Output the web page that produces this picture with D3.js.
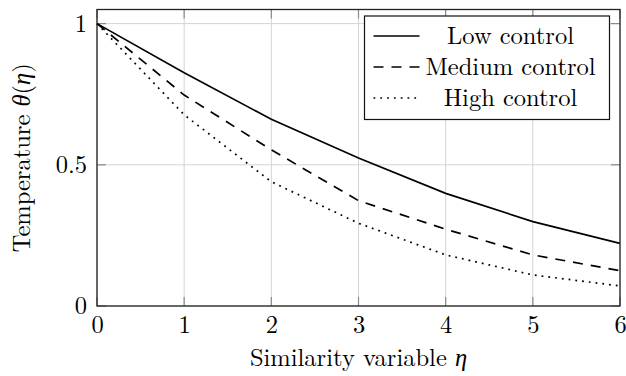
<!DOCTYPE html>
<html>
<head>
<meta charset="utf-8">
<script src="https://cdn.jsdelivr.net/npm/d3@7"></script>
<style>
  body { margin: 0; background: #fff; }
</style>
</head>
<body>
<div id="chart"></div>
<script>
// data
const eta = [0, 1, 2, 3, 4, 5, 6];
const lowControl = [1, 0.826, 0.661, 0.524, 0.399, 0.299, 0.222];
const mediumControl = [1, 0.747, 0.553, 0.373, 0.272, 0.181, 0.125];
const highControl = [1, 0.677, 0.44, 0.293, 0.181, 0.11, 0.071];
const xTicks = [0, 1, 2, 3, 4, 5, 6];
const yTicks = [0, 0.5, 1];
const seriesNames = ["Low control", "Medium control", "High control"];

const texFont = "'Latin Modern Roman', 'Liberation Serif', serif";
const greekFont = "'Liberation Serif', serif";
const fs = 24.5;

const W = 626, H = 376;
const margin = {top: 9.5, right: 6, bottom: 70, left: 97};
const width = W - margin.left - margin.right;
const height = H - margin.top - margin.bottom;

const svg = d3.select("#chart").append("svg")
  .attr("width", W)
  .attr("height", H);

const g = svg.append("g")
  .attr("transform", "translate(" + margin.left + "," + margin.top + ")");

const x = d3.scaleLinear().domain([0, 6]).range([0, width]);
const y = d3.scaleLinear().domain([0, 1.05]).range([height, 0]);

function tex(sel) {
  sel.style("font-family", texFont).style("font-size", fs + "px").style("fill", "#000");
}
function greek(parent, ch) {
  parent.append("tspan").text(ch)
    .style("font-family", greekFont).style("font-style", "italic");
}

// grid
g.selectAll(".vgrid").data(xTicks).join("line")
  .attr("x1", d => x(d)).attr("x2", d => x(d))
  .attr("y1", 0).attr("y2", height)
  .attr("stroke", "#d4d4d4").attr("stroke-width", 1);
g.selectAll(".hgrid").data(yTicks).join("line")
  .attr("x1", 0).attr("x2", width)
  .attr("y1", d => y(d)).attr("y2", d => y(d))
  .attr("stroke", "#d4d4d4").attr("stroke-width", 1);

// small tick marks inside the box
const tl = 9;
xTicks.forEach(d => {
  g.append("line").attr("x1", x(d)).attr("x2", x(d)).attr("y1", height).attr("y2", height - tl)
    .attr("stroke", "#8a8a8a").attr("stroke-width", 1.2);
  g.append("line").attr("x1", x(d)).attr("x2", x(d)).attr("y1", 0).attr("y2", tl)
    .attr("stroke", "#8a8a8a").attr("stroke-width", 1.2);
});
yTicks.forEach(d => {
  g.append("line").attr("x1", 0).attr("x2", tl).attr("y1", y(d)).attr("y2", y(d))
    .attr("stroke", "#8a8a8a").attr("stroke-width", 1.2);
  g.append("line").attr("x1", width).attr("x2", width - tl).attr("y1", y(d)).attr("y2", y(d))
    .attr("stroke", "#8a8a8a").attr("stroke-width", 1.2);
});

// tick labels
const xAxis = g.append("g")
  .attr("transform", "translate(0," + height + ")")
  .call(d3.axisBottom(x).tickValues(xTicks).tickFormat(d3.format("d")).tickSize(0).tickPadding(10));
const yAxis = g.append("g")
  .call(d3.axisLeft(y).tickValues(yTicks).tickFormat(d => d === 0.5 ? "0.5" : d3.format("d")(d)).tickSize(0).tickPadding(10));
[xAxis, yAxis].forEach(a => {
  a.select(".domain").remove();
  a.selectAll("text").call(tex);
});

// lines
const line = d3.line()
  .x((d, i) => x(eta[i]))
  .y(d => y(d));

const dashes = [null, "10,8", "1.8,5"];
const series = [lowControl, mediumControl, highControl];

g.selectAll(".series").data(series).join("path")
  .attr("d", line)
  .attr("fill", "none")
  .attr("stroke", "#000")
  .attr("stroke-width", 1.7)
  .attr("stroke-dasharray", (d, i) => dashes[i]);

// box
g.append("rect")
  .attr("x", 0).attr("y", 0)
  .attr("width", width).attr("height", height)
  .attr("fill", "none")
  .attr("stroke", "#222")
  .attr("stroke-width", 1.3);

// legend
const leg = svg.append("g").attr("transform", "translate(364.5,16)");
leg.append("rect")
  .attr("width", 245).attr("height", 103.5)
  .attr("fill", "#fff").attr("stroke", "#111").attr("stroke-width", 1.2);
seriesNames.forEach((name, i) => {
  const cy = 20 + i * 31;
  leg.append("line")
    .attr("x1", 9).attr("x2", 55)
    .attr("y1", cy).attr("y2", cy)
    .attr("stroke", "#000").attr("stroke-width", 1.7)
    .attr("stroke-dasharray", dashes[i]);
  leg.append("text")
    .attr("x", 146).attr("y", cy)
    .attr("dy", "0.33em")
    .attr("text-anchor", "middle")
    .text(name)
    .call(tex);
});

// axis titles
const xt = svg.append("text")
  .attr("x", margin.left + width / 2)
  .attr("y", 366)
  .attr("text-anchor", "middle")
  .call(tex);
xt.append("tspan").text("Similarity variable ");
greek(xt, "η");

const yt = svg.append("text")
  .attr("transform", "translate(30," + (margin.top + height / 2) + ") rotate(-90)")
  .attr("text-anchor", "middle")
  .call(tex);
yt.append("tspan").text("Temperature ");
greek(yt, "θ");
yt.append("tspan").text("(");
greek(yt, "η");
yt.append("tspan").text(")");
</script>
</body>
</html>
